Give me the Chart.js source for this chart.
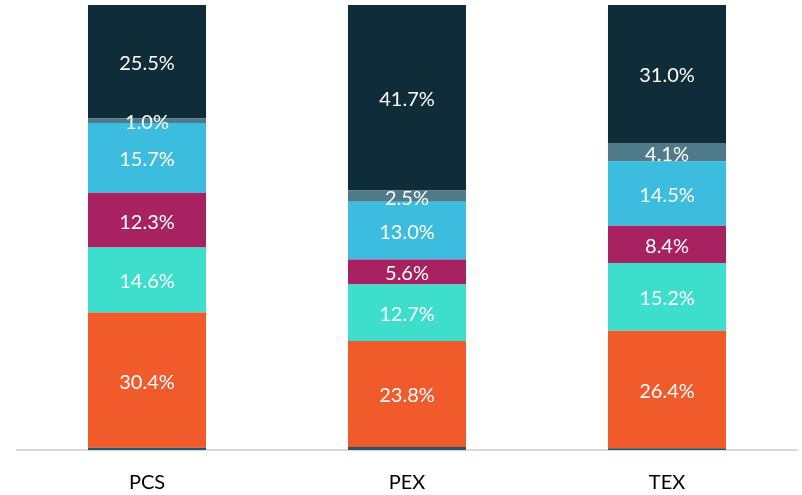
<!DOCTYPE html>
<html>
<head>
<meta charset="utf-8">
<script src="https://cdn.jsdelivr.net/npm/chart.js@4/dist/chart.umd.min.js"></script>
<style>
  html, body { margin: 0; padding: 0; background: #ffffff; }
  #wrap { width: 802px; height: 495px; }
</style>
</head>
<body>
<div id="wrap"><canvas id="c" width="802" height="495"></canvas></div>
<script>
const categories = ["PCS", "PEX", "TEX"];
const otherSmall = [0.5, 0.7, 0.4];
const seriesA = [30.4, 23.8, 26.4];
const seriesB = [14.6, 12.7, 15.2];
const seriesC = [12.3, 5.6, 8.4];
const seriesD = [15.7, 13.0, 14.5];
const seriesE = [1.0, 2.5, 4.1];
const seriesF = [25.5, 41.7, 31.0];

const labelPlugin = {
  id: 'segLabels',
  afterDatasetsDraw(chart) {
    const ctx = chart.ctx;
    ctx.save();
    ctx.font = '20px Lato, "Open Sans", sans-serif';
    ctx.fillStyle = '#ffffff';
    ctx.textAlign = 'center';
    ctx.textBaseline = 'middle';
    chart.data.datasets.forEach((ds, i) => {
      if (!ds.showLabel) return;
      const meta = chart.getDatasetMeta(i);
      meta.data.forEach((bar, j) => {
        const v = ds.data[j];
        const y = (bar.y + bar.base) / 2 + 2;
        ctx.fillText(v.toFixed(1) + '%', bar.x, y);
      });
    });
    ctx.restore();
  }
};

function ds(data, color, showLabel) {
  return { data, backgroundColor: color, borderWidth: 0, showLabel,
           barPercentage: 0.454, categoryPercentage: 1.0 };
}

new Chart(document.getElementById('c'), {
  type: 'bar',
  data: {
    labels: categories,
    datasets: [
      ds(otherSmall, '#2b5566', false),
      ds(seriesA, '#f15a2b', true),
      ds(seriesB, '#3ddfcc', true),
      ds(seriesC, '#a82262', true),
      ds(seriesD, '#3cbde0', true),
      ds(seriesE, '#4f7a89', true),
      ds(seriesF, '#0f2c39', true)
    ]
  },
  options: {
    responsive: false,
    animation: false,
    layout: { padding: { left: 17, right: 5, top: 5, bottom: 0 } },
    plugins: { legend: { display: false }, tooltip: { enabled: false } },
    scales: {
      x: {
        stacked: true,
        grid: { display: false, drawTicks: false },
        border: { display: true, color: '#d9d9d9', width: 2 },
        ticks: { color: '#000000', font: { family: 'Lato, "Open Sans", sans-serif', size: 20 }, padding: 21 },
        afterFit(scale) { scale.height = 45; }
      },
      y: {
        stacked: true,
        display: false,
        min: 0,
        max: 100
      }
    }
  },
  plugins: [labelPlugin]
});
</script>
</body>
</html>
